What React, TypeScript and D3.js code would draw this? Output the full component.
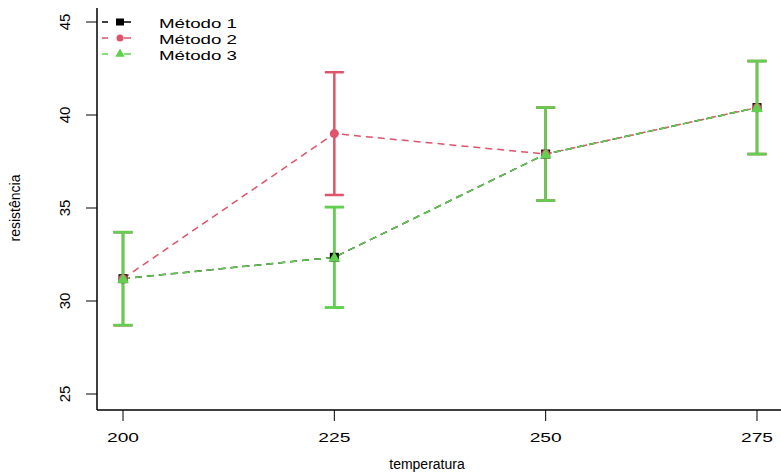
import * as d3 from "d3";

// temperaturas (eixo x)
const temps = [200, 225, 250, 275];
const yTicks = [25, 30, 35, 40, 45];

// médias por método
const metodo1 = [31.2, 32.35, 37.9, 40.4];
const metodo2 = [31.2, 39.0, 37.9, 40.4];
const metodo3 = [31.2, 32.35, 37.9, 40.4];

// semi-amplitude das barras de erro
const erro1 = [2.5, 2.7, 2.5, 2.5];
const erro2 = [2.5, 3.3, 2.5, 2.5];
const erro3 = [2.5, 2.7, 2.5, 2.5];

const seriesNames = ["Método 1", "Método 2", "Método 3"];
const colors = ["#000000", "#DF536B", "#61D04F"];

const W = 781,
  H = 472;
const axisLeft = 97,
  axisBottom = 410;

export default function App() {
  const x = d3.scaleLinear().domain([200, 275]).range([123, 757]);
  const y = d3.scaleLinear().domain([25, 45]).range([394, 22]);

  const series = [
    { vals: metodo1, err: erro1 },
    { vals: metodo2, err: erro2 },
    { vals: metodo3, err: erro3 },
  ];

  const line = d3
    .line<number>()
    .x((_, i) => x(temps[i]))
    .y((d) => y(d));

  const marker = (k: number, cx: number, cy: number, key: string) => {
    if (k === 0)
      return <rect key={key} x={cx - 4.5} y={cy - 4.5} width={9} height={9} fill={colors[0]} />;
    if (k === 1) return <circle key={key} cx={cx} cy={cy} r={4.5} fill={colors[1]} />;
    const p = d3.symbol(d3.symbolTriangle, 60)();
    return <path key={key} d={p || ""} transform={`translate(${cx},${cy + 1})`} fill={colors[2]} />;
  };

  const narrow = "'Liberation Sans Narrow', 'Arial Narrow', sans-serif";
  const sans = "'Liberation Sans', Arial, sans-serif";

  return (
    <svg
      width={W}
      height={H}
      style={{ position: "fixed", left: 0, top: 0, background: "#fff" }}
    >
      {/* séries: linha, barras de erro e pontos */}
      {series.map((s, k) => (
        <g key={k}>
          <path
            d={line(s.vals) || ""}
            fill="none"
            stroke={colors[k]}
            strokeWidth={1.5}
            strokeDasharray="7 5"
          />
          {s.vals.map((v, i) => {
            const cx = x(temps[i]);
            const top = y(v + s.err[i]);
            const bot = y(v - s.err[i]);
            return (
              <g key={i} stroke={k === 0 ? colors[2] : colors[k]} strokeWidth={2.5}>
                <line x1={cx} x2={cx} y1={top} y2={bot} />
                <line x1={cx - 9.5} x2={cx + 9.5} y1={top} y2={top} />
                <line x1={cx - 9.5} x2={cx + 9.5} y1={bot} y2={bot} />
              </g>
            );
          })}
        </g>
      ))}
      {series.map((s, k) => (
        <g key={"m" + k}>{s.vals.map((v, i) => marker(k, x(temps[i]), y(v), `${k}-${i}`))}</g>
      ))}

      {/* eixos */}
      <line x1={axisLeft} x2={axisLeft} y1={8} y2={axisBottom} stroke="#000" strokeWidth={1.5} />
      <line x1={axisLeft} x2={W} y1={axisBottom} y2={axisBottom} stroke="#000" strokeWidth={1.5} />
      {yTicks.map((t) => (
        <g key={t}>
          <line x1={86} x2={axisLeft} y1={y(t)} y2={y(t)} stroke="#000" />
          <text
            transform={`translate(${70},${y(t)}) rotate(-90)`}
            textAnchor="middle"
            fontFamily={narrow}
            fontSize={15}
          >
            {t}
          </text>
        </g>
      ))}
      {temps.map((t) => (
        <g key={t}>
          <line x1={x(t)} x2={x(t)} y1={axisBottom} y2={421} stroke="#000" />
          <text
            x={x(t) - 16}
            y={442}
            fontFamily={sans}
            fontSize={13}
            textLength={32}
            lengthAdjust="spacingAndGlyphs"
          >
            {t}
          </text>
        </g>
      ))}
      <text x={427} y={469} textAnchor="middle" fontFamily={sans} fontSize={14}>
        temperatura
      </text>
      <text
        transform="translate(20,208) rotate(-90)"
        textAnchor="middle"
        fontFamily={narrow}
        fontSize={14}
      >
        resistência
      </text>

      {/* legenda */}
      {seriesNames.map((n, k) => {
        const ly = 22 + k * 16;
        return (
          <g key={n}>
            <line x1={102} x2={108} y1={ly} y2={ly} stroke={colors[k]} strokeWidth={1.5} />
            <line x1={124} x2={131} y1={ly} y2={ly} stroke={colors[k]} strokeWidth={1.5} />
            {k === 0 ? (
              <rect x={116} y={ly - 3.5} width={8} height={7} fill={colors[0]} />
            ) : k === 1 ? (
              <circle cx={120} cy={ly} r={3.5} fill={colors[1]} />
            ) : (
              <path
                d={d3.symbol(d3.symbolTriangle, 40)() || ""}
                transform={`translate(120,${ly})`}
                fill={colors[2]}
              />
            )}
            <text
              x={159}
              y={ly + 6}
              fontFamily={sans}
              fontSize={13.5}
              textLength={78}
              lengthAdjust="spacingAndGlyphs"
            >
              {n}
            </text>
          </g>
        );
      })}
    </svg>
  );
}
